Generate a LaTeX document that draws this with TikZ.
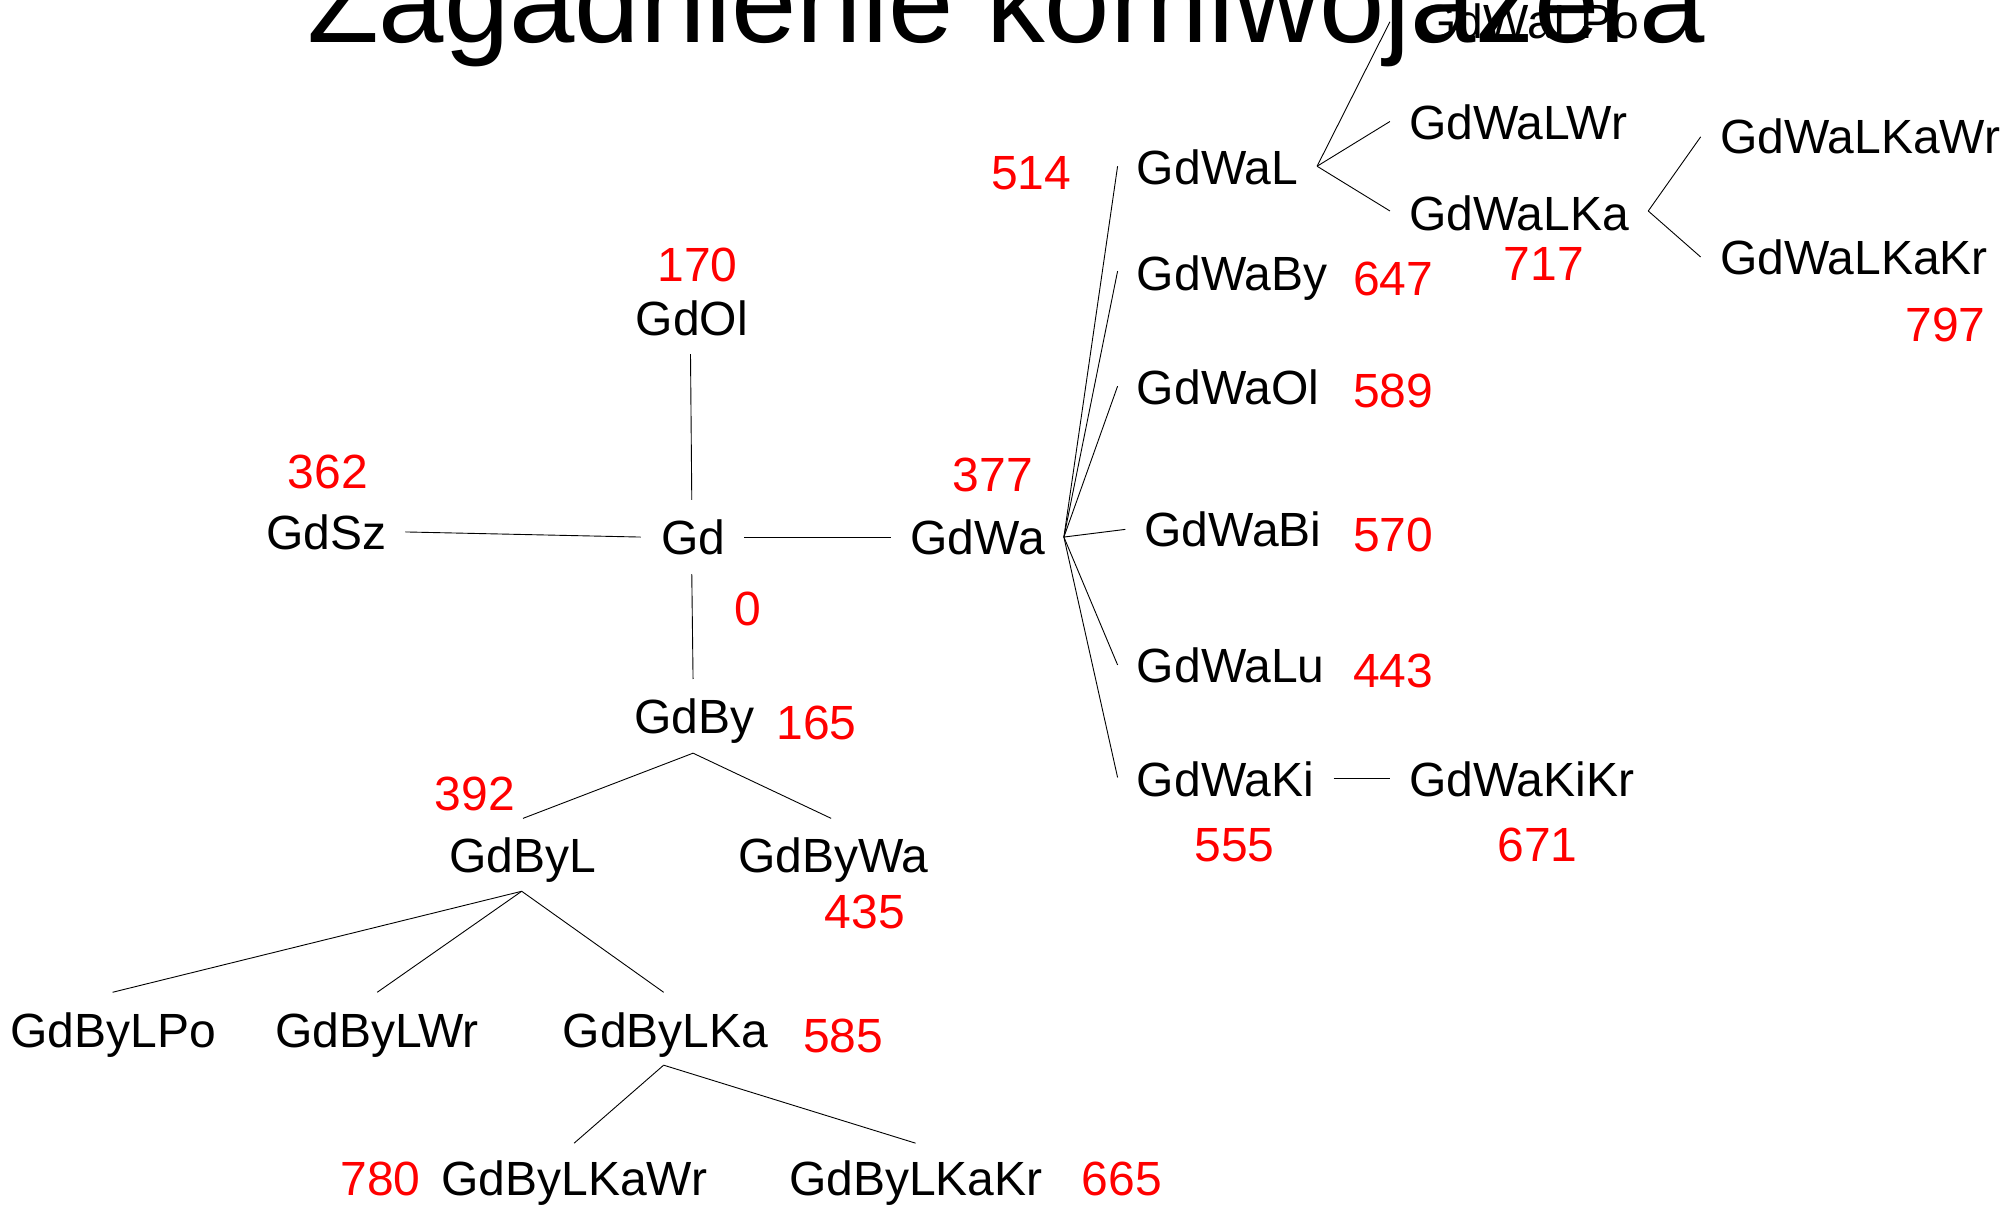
\documentclass[tikz,border=0pt]{standalone}
\usepackage{fontspec}
\setmainfont{Liberation Sans}
\begin{document}
\begin{tikzpicture}[x=1.2787pt,y=-1.2787pt,
  lbl/.style={anchor=base west,inner sep=0pt,font=\fontsize{48}{50}\selectfont},
  cost/.style={lbl,text=red},
  edge/.style={draw=black,line width=0.9pt}]
\useasboundingbox (0,0) rectangle (1568,943);
\clip (0,0) rectangle (1568,943);

% --- city labels ---
\node[lbl] (gd)   at (517,434) {Gd};
\node[lbl] (gdol) at (497,262) {GdOl};
\node[lbl] (gdsz) at (208,430) {GdSz};
\node[lbl] (gdwa) at (712,434) {GdWa};
\node[lbl] (gdby) at (496,574) {GdBy};
\node[lbl] (gdbyl)  at (351,682) {GdByL};
\node[lbl] (gdbywa) at (577,682) {GdByWa};
\node[lbl] (gdbylpo) at (8,819) {GdByLPo};
\node[lbl] (gdbylwr) at (215,819) {GdByLWr};
\node[lbl] (gdbylka) at (440,819) {GdByLKa};
\node[lbl] (gdbylkawr) at (345,935) {GdByLKaWr};
\node[lbl] (gdbylkakr) at (617,935) {GdByLKaKr};
\node[lbl] (gdwal)  at (889,144) {GdWaL};
\node[lbl] (gdwaby) at (889,227) {GdWaBy};
\node[lbl] (gdwaol) at (889,316) {GdWaOl};
\node[lbl] (gdwabi) at (895,427) {GdWaBi};
\node[lbl] (gdwalu) at (889,534) {GdWaLu};
\node[lbl] (gdwaki) at (889,623) {GdWaKi};
\node[lbl] (gdwakikr) at (1102,623) {GdWaKiKr};
\node[lbl] (gdwalpo) at (1110,30) {GdWaLPo};
\node[lbl] (gdwalwr) at (1102,109) {GdWaLWr};
\node[lbl] (gdwalka) at (1102,180) {GdWaLKa};
\node[lbl] (gdwalkawr) at (1345,120) {GdWaLKaWr};
\node[lbl] (gdwalkakr) at (1345,215) {GdWaLKaKr};

% --- path costs ---
\node[cost] (c-gd)   at (574,489) {0};
\node[cost] (c-gdol) at (514,220) {170};
\node[cost] (c-gdsz) at (225,382) {362};
\node[cost] (c-gdwa) at (745,384) {377};
\node[cost] (c-gdby) at (607,578) {165};
\node[cost] (c-gdbyl)  at (340,634) {392};
\node[cost] (c-gdbywa) at (645,726) {435};
\node[cost] (c-gdbylka) at (628,823) {585};
\node[cost] (c-gdbylkawr) at (266,935) {780};
\node[cost] (c-gdbylkakr) at (846,935) {665};
\node[cost] (c-gdwal)  at (775,148) {514};
\node[cost] (c-gdwaby) at (1058,231) {647};
\node[cost] (c-gdwaol) at (1058,319) {589};
\node[cost] (c-gdwabi) at (1058,431) {570};
\node[cost] (c-gdwalu) at (1058,538) {443};
\node[cost] (c-gdwaki) at (934,674) {555};
\node[cost] (c-gdwakikr) at (1171,674) {671};
\node[cost] (c-gdwalka) at (1176,219) {717};
\node[cost] (c-gdwalkakr) at (1490,267) {797};

% --- title ---
\node[anchor=base west,inner sep=0pt,font=\fontsize{117.5}{120}\selectfont] (title)
  at (240,33) {Zagadnienie komiwojażera};

% --- connector end points ---
\coordinate (gd-n) at (541,391);
\coordinate (gd-w) at (501,420);
\coordinate (gd-e) at (582,420);
\coordinate (gd-s) at (541,449);
\coordinate (gdol-s) at (540,277);
\coordinate (gdsz-e) at (317,416);
\coordinate (gdwa-w) at (697,420);
\coordinate (gdwa-e) at (832,420);
\coordinate (gdby-n) at (542,531);
\coordinate (gdby-s) at (542,589);
\coordinate (gdbyl-n) at (409,640);
\coordinate (gdbyl-s) at (408,697);
\coordinate (gdbywa-n) at (650,640);
\coordinate (gdbylpo-n) at (88,776);
\coordinate (gdbylwr-n) at (295,776);
\coordinate (gdbylka-n) at (519,776);
\coordinate (gdbylka-s) at (519,833);
\coordinate (gdbylkawr-n) at (449,894);
\coordinate (gdbylkakr-n) at (716,894);
\coordinate (gdwal-w) at (874,130);
\coordinate (gdwal-e) at (1030,130);
\coordinate (gdwaby-w) at (874,212);
\coordinate (gdwaol-w) at (874,302);
\coordinate (gdwabi-w) at (880,414);
\coordinate (gdwalu-w) at (874,520);
\coordinate (gdwaki-w) at (874,608);
\coordinate (gdwaki-e) at (1043,609);
\coordinate (gdwakikr-w) at (1087,609);
\coordinate (gdwalpo-w) at (1087,17);
\coordinate (gdwalwr-w) at (1087,95);
\coordinate (gdwalka-w) at (1087,165);
\coordinate (gdwalka-e) at (1289,165);
\coordinate (gdwalkawr-w) at (1330,107);
\coordinate (gdwalkakr-w) at (1330,201);

% --- connectors ---
\draw[edge] (gd-n) -- (gdol-s);
\draw[edge] (gd-w) -- (gdsz-e);
\draw[edge] (gd-e) -- (gdwa-w);
\draw[edge] (gd-s) -- (gdby-n);
\draw[edge] (gdby-s) -- (gdbyl-n);
\draw[edge] (gdby-s) -- (gdbywa-n);
\draw[edge] (gdbyl-s) -- (gdbylpo-n);
\draw[edge] (gdbyl-s) -- (gdbylwr-n);
\draw[edge] (gdbyl-s) -- (gdbylka-n);
\draw[edge] (gdbylka-s) -- (gdbylkawr-n);
\draw[edge] (gdbylka-s) -- (gdbylkakr-n);
\draw[edge] (gdwa-e) -- (gdwal-w);
\draw[edge] (gdwa-e) -- (gdwaby-w);
\draw[edge] (gdwa-e) -- (gdwaol-w);
\draw[edge] (gdwa-e) -- (gdwabi-w);
\draw[edge] (gdwa-e) -- (gdwalu-w);
\draw[edge] (gdwa-e) -- (gdwaki-w);
\draw[edge] (gdwaki-e) -- (gdwakikr-w);
\draw[edge] (gdwal-e) -- (gdwalpo-w);
\draw[edge] (gdwal-e) -- (gdwalwr-w);
\draw[edge] (gdwal-e) -- (gdwalka-w);
\draw[edge] (gdwalka-e) -- (gdwalkawr-w);
\draw[edge] (gdwalka-e) -- (gdwalkakr-w);
\end{tikzpicture}
\end{document}
